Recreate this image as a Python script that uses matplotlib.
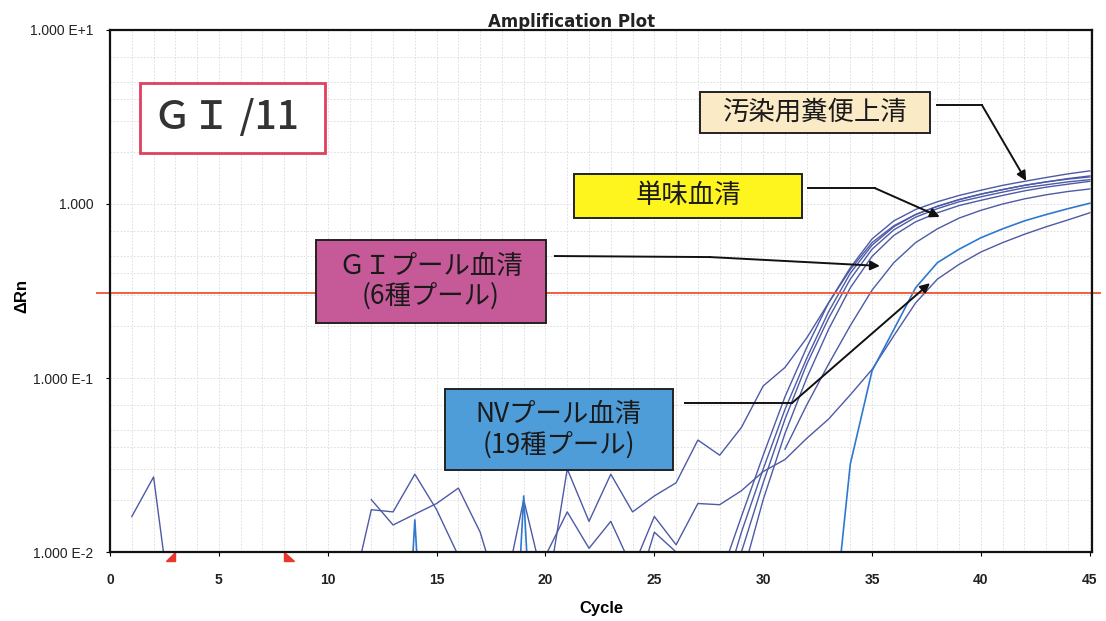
import numpy as np
import matplotlib
matplotlib.use("Agg")
import matplotlib.pyplot as plt
from matplotlib.patches import Rectangle, Polygon
from matplotlib.ticker import FixedLocator, LogLocator, NullFormatter

# --- amplification curves (cycle, delta Rn); values < 0.01 fall below the axis ---
cyc_r1 = [1, 2, 3, 28, 29, 30, 31, 32, 33, 34, 35, 36, 37, 38, 39, 40, 41, 42, 43, 44, 45]
val_r1 = [0.016, 0.027, 0.003, 0.007, 0.016, 0.036, 0.078, 0.15, 0.27, 0.43, 0.63, 0.80,
          0.93, 1.03, 1.12, 1.20, 1.28, 1.35, 1.42, 1.49, 1.55]

cyc_r2 = [11, 12, 13, 14, 15, 16, 17, 28, 29, 30, 31, 32, 33, 34, 35, 36, 37, 38, 39, 40,
          41, 42, 43, 44, 45]
val_r2 = [0.005, 0.0175, 0.017, 0.028, 0.0175, 0.0095, 0.004, 0.005, 0.013, 0.030, 0.066,
          0.13, 0.24, 0.40, 0.58, 0.74, 0.87, 0.97, 1.06, 1.14, 1.21, 1.28, 1.34, 1.39, 1.43]

cyc_r3 = [12, 13, 14, 15, 16, 17, 18, 19, 20, 28, 29, 30, 31, 32, 33, 34, 35, 36, 37, 38,
          39, 40, 41, 42, 43, 44, 45]
val_r3 = [0.020, 0.0143, 0.0165, 0.019, 0.0233, 0.013, 0.005, 0.020, 0.006, 0.004, 0.010,
          0.025, 0.058, 0.12, 0.22, 0.37, 0.55, 0.71, 0.84, 0.94, 1.03, 1.10, 1.17, 1.24,
          1.29, 1.34, 1.38]

cyc_r4 = [23, 24, 25, 26, 27, 28, 29, 30, 31, 32, 33, 34, 35, 36, 37, 38, 39, 40, 41, 42,
          43, 44, 45]
val_r4 = [0.004, 0.005, 0.013, 0.010, 0.006, 0.004, 0.007, 0.020, 0.048, 0.10, 0.19, 0.33,
          0.50, 0.66, 0.79, 0.89, 0.98, 1.05, 1.12, 1.19, 1.25, 1.30, 1.35]

cyc_bump = [20, 21, 22, 23, 24, 25, 26, 27, 28, 29, 30, 31, 32, 33, 34, 35, 36, 37, 38,
            39, 40, 41, 42, 43, 44, 45]
val_bump = [0.005, 0.030, 0.015, 0.028, 0.017, 0.021, 0.025, 0.044, 0.036, 0.052, 0.090,
            0.115, 0.17, 0.27, 0.42, 0.60, 0.75, 0.87, 0.97, 1.06, 1.14, 1.21, 1.28, 1.34,
            1.40, 1.45]

cyc_gi = [31, 32, 33, 34, 35, 36, 37, 38, 39, 40, 41, 42, 43, 44, 45]
val_gi = [0.039, 0.070, 0.12, 0.20, 0.32, 0.46, 0.60, 0.72, 0.83, 0.92, 1.00, 1.07, 1.13,
          1.18, 1.22]

cyc_nv_slow = [19, 20, 21, 22, 23, 24, 25, 26, 27, 28, 29, 30, 31, 32, 33, 34, 35, 36, 37,
               38, 39, 40, 41, 42, 43, 44, 45]
val_nv_slow = [0.004, 0.0095, 0.017, 0.0105, 0.015, 0.008, 0.016, 0.011, 0.019, 0.0187,
               0.0225, 0.029, 0.034, 0.045, 0.058, 0.080, 0.112, 0.175, 0.27, 0.37, 0.45,
               0.53, 0.60, 0.67, 0.74, 0.81, 0.89]

cyc_nv_steep = [13, 14, 15, 18, 19, 20, 33, 34, 35, 36, 37, 38, 39, 40, 41, 42, 43, 44, 45]
val_nv_steep = [0.0001, 0.0153, 0.0001, 0.0001, 0.021, 0.0001, 0.002, 0.032, 0.11, 0.19,
                0.33, 0.46, 0.55, 0.64, 0.72, 0.80, 0.87, 0.94, 1.01]

curves = [(cyc_r1, val_r1), (cyc_r2, val_r2), (cyc_r3, val_r3), (cyc_r4, val_r4),
          (cyc_bump, val_bump), (cyc_gi, val_gi), (cyc_nv_slow, val_nv_slow)]
bright_curves = [(cyc_nv_steep, val_nv_steep)]

threshold = 0.31
baseline = [3, 8]  # baseline start / end cycles (red markers)

x_ticks = [0, 5, 10, 15, 20, 25, 30, 35, 40, 45]
y_ticks = [0.01, 0.1, 1, 10]
y_labels = ["1.000 E-2", "1.000 E-1", "1.000", "1.000 E+1"]

# label boxes: text, face colour, box (x0, y0, x1, y1) in axes fraction
labels = [
    ("汚染用糞便上清", "#fbeac6", (0.601, 0.803, 0.835, 0.881)),
    ("単味血清", "#fff51e", (0.4725, 0.640, 0.7047, 0.724)),
    ("ＧＩプール血清\n(6種プール)", "#c65a98", (0.2098, 0.4387, 0.444, 0.598)),
    ("NVプール血清\n(19種プール)", "#4f9dd8", (0.341, 0.157, 0.573, 0.312)),
]
# leader lines: start, knee, arrow tip (axes fraction)
leaders = [
    ((0.842, 0.856), (0.888, 0.856), (0.933, 0.711)),
    ((0.711, 0.697), (0.779, 0.697), (0.845, 0.642)),
    ((0.453, 0.567), (0.611, 0.565), (0.784, 0.548)),
    ((0.5855, 0.2854), (0.6945, 0.2854), (0.835, 0.515)),
]

jp = ["Noto Sans CJK JP", "DejaVu Sans"]
sans = ["Liberation Sans", "DejaVu Sans"]

fig = plt.figure(figsize=(11.06, 6.21), dpi=100)
fig.patch.set_facecolor("white")
ax = fig.add_axes([0.0995, 0.1111, 0.8878, 0.8406])

ax.set_yscale("log")
ax.set_xlim(0, 45.1)
ax.set_ylim(0.01, 10)

# grid
ax.xaxis.set_minor_locator(FixedLocator(np.arange(1, 46)))
ax.yaxis.set_minor_locator(LogLocator(base=10, subs=[2, 3, 4, 5, 7]))
ax.yaxis.set_minor_formatter(NullFormatter())
ax.grid(True, which="both", color="#d9d9d9", linestyle=(0, (2, 2)), linewidth=0.6)
ax.set_axisbelow(True)

for cx, cv in curves:
    ax.plot(cx, cv, color="#4d5aa6", linewidth=1.0)
for cx, cv in bright_curves:
    ax.plot(cx, cv, color="#2f78d0", linewidth=1.2)

ax.axhline(threshold, color="#f0603e", linewidth=1.4, xmin=-0.013, xmax=1.008, clip_on=False)

# baseline markers under the axis
trans = ax.get_xaxis_transform()
b0, b1 = baseline
ax.add_patch(Polygon([(b0 - 0.45, -0.018), (b0, -0.018), (b0, 0.0)], closed=True,
                     transform=trans, color="#e8372c", clip_on=False))
ax.add_patch(Polygon([(b1, 0.0), (b1, -0.018), (b1 + 0.45, -0.018)], closed=True,
                     transform=trans, color="#e8372c", clip_on=False))

# ticks / labels
ax.set_xticks(x_ticks)
ax.set_xticklabels([str(t) for t in x_ticks], family=sans, fontsize=10, fontweight="bold",
                   color="#222222")
ax.set_yticks(y_ticks)
ax.set_yticklabels(y_labels, family=sans, fontsize=10, color="#222222")
ax.tick_params(axis="x", which="major", length=3, pad=12)
ax.tick_params(axis="y", which="major", length=3, pad=9)
ax.tick_params(axis="both", which="minor", length=0)
for s in ax.spines.values():
    s.set_linewidth(1.6)
    s.set_color("#111111")

ax.set_xlabel("Cycle", family=sans, fontsize=12, fontweight="bold", labelpad=10)
ax.set_ylabel("ΔRn", family=sans, fontsize=12, fontweight="bold")
ax.yaxis.set_label_coords(-0.082, 0.49)
fig.text(0.517, 0.965, "Amplification Plot", family=["Liberation Sans Narrow", "DejaVu Sans"],
         fontsize=12, fontweight="bold", ha="center", va="center", color="#222222")

# GI/11 box
ax.add_patch(Rectangle((0.0305, 0.764), 0.1885, 0.134, transform=ax.transAxes,
                       facecolor="white", edgecolor="#e0405e", linewidth=2, zorder=5))
ax.text(0.118, 0.831, "ＧＩ /11", transform=ax.transAxes, family=jp, fontsize=28,
        fontweight="medium", ha="center", va="center", color="#333333", zorder=6)

for (txt, fc, (x0, y0, x1, y1)) in labels:
    ax.add_patch(Rectangle((x0, y0), x1 - x0, y1 - y0, transform=ax.transAxes,
                           facecolor=fc, edgecolor="#222222", linewidth=1.4, zorder=5))
    ax.text((x0 + x1) / 2, (y0 + y1) / 2, txt, transform=ax.transAxes, family=jp,
            fontsize=19, ha="center", va="center", color="#1a1a1a", zorder=6,
            linespacing=1.15)

for p0, p1, p2 in leaders:
    ax.plot([p0[0], p1[0]], [p0[1], p1[1]], transform=ax.transAxes, color="#111111",
            linewidth=1.4, zorder=6)
    ax.annotate("", xy=p2, xytext=p1, xycoords="axes fraction", textcoords="axes fraction",
                arrowprops=dict(arrowstyle="-|>", color="#111111", lw=1.4,
                                mutation_scale=14, shrinkA=0, shrinkB=0), zorder=6)

fig.savefig("out.png", dpi=100, facecolor="white")
